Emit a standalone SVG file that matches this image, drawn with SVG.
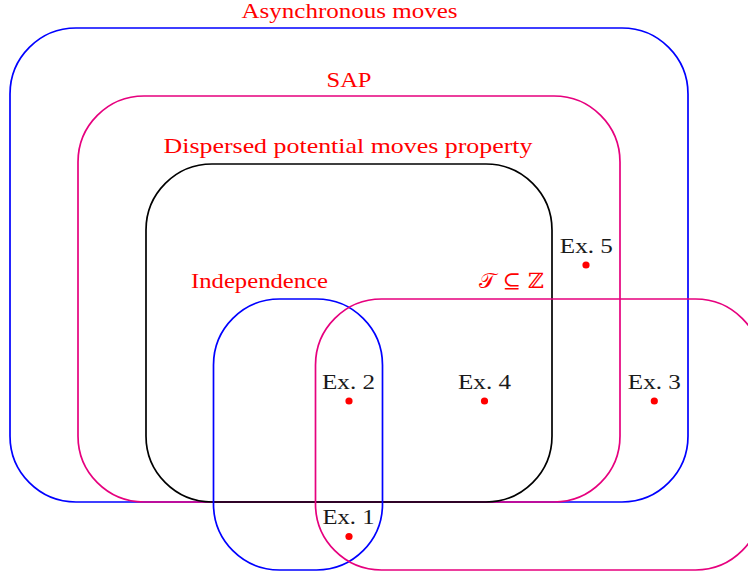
<svg xmlns="http://www.w3.org/2000/svg" width="748" height="579" viewBox="0 0 748 579">
  <style>
    .set { fill: none; stroke-width: 1.7; }
    .blue { stroke: #0000ff; }
    .mag { stroke: #e6007e; }
    .blk { stroke: #000000; }
    .lbl { font-family: "Liberation Serif", "DejaVu Serif", serif; font-size: 22px; fill: #ff0000; text-anchor: middle; }
    .ex { font-family: "Liberation Serif", "DejaVu Serif", serif; font-size: 20px; fill: #1a1a1a; text-anchor: middle; }
    .dot { fill: #ff0000; }
  </style>
  <rect width="748" height="579" fill="#ffffff"/>
  <g id="async">
    <rect class="set blue" x="10" y="28" width="678" height="474" rx="66" ry="66"/>
    <text class="lbl" x="349.5" y="18" textLength="216" lengthAdjust="spacingAndGlyphs" style="font-size: 20px;">Asynchronous moves</text>
  </g>
  <g id="sap">
    <rect class="set mag" x="78" y="96" width="542" height="406" rx="66" ry="66"/>
    <text class="lbl" x="349" y="87" textLength="45" lengthAdjust="spacingAndGlyphs">SAP</text>
  </g>
  <g id="dispersed">
    <rect class="set blk" x="146" y="164" width="406" height="338" rx="66" ry="66"/>
    <text class="lbl" x="348" y="153" textLength="369" lengthAdjust="spacingAndGlyphs">Dispersed potential moves property</text>
  </g>
  <g id="independence">
    <rect class="set blue" x="213.5" y="299" width="169" height="271" rx="66" ry="66"/>
    <text class="lbl" x="259.5" y="288" textLength="137" lengthAdjust="spacingAndGlyphs">Independence</text>
  </g>
  <g id="tz">
    <rect class="set mag" x="315.5" y="299" width="446" height="271" rx="66" ry="66"/>
    <text class="lbl" x="511.5" y="288" textLength="65" lengthAdjust="spacingAndGlyphs" style="font-family: 'DejaVu Serif', 'DejaVu Sans', serif; font-size: 21px;">𝒯 ⊆ ℤ</text>
  </g>
  <g id="ex1">
    <circle class="dot" cx="349" cy="536.5" r="3.6"/>
    <text class="ex" x="348.5" y="523.5" textLength="52" lengthAdjust="spacingAndGlyphs">Ex. 1</text>
  </g>
  <g id="ex2">
    <circle class="dot" cx="349" cy="401" r="3.6"/>
    <text class="ex" x="348.5" y="388.5" textLength="53" lengthAdjust="spacingAndGlyphs">Ex. 2</text>
  </g>
  <g id="ex3">
    <circle class="dot" cx="654.3" cy="401" r="3.6"/>
    <text class="ex" x="654.3" y="388.5" textLength="53" lengthAdjust="spacingAndGlyphs">Ex. 3</text>
  </g>
  <g id="ex4">
    <circle class="dot" cx="484.5" cy="401" r="3.6"/>
    <text class="ex" x="484.5" y="388.5" textLength="53" lengthAdjust="spacingAndGlyphs">Ex. 4</text>
  </g>
  <g id="ex5">
    <circle class="dot" cx="586" cy="265" r="3.6"/>
    <text class="ex" x="586.3" y="253" textLength="53" lengthAdjust="spacingAndGlyphs">Ex. 5</text>
  </g>
  <g id="connectors"></g>
</svg>
